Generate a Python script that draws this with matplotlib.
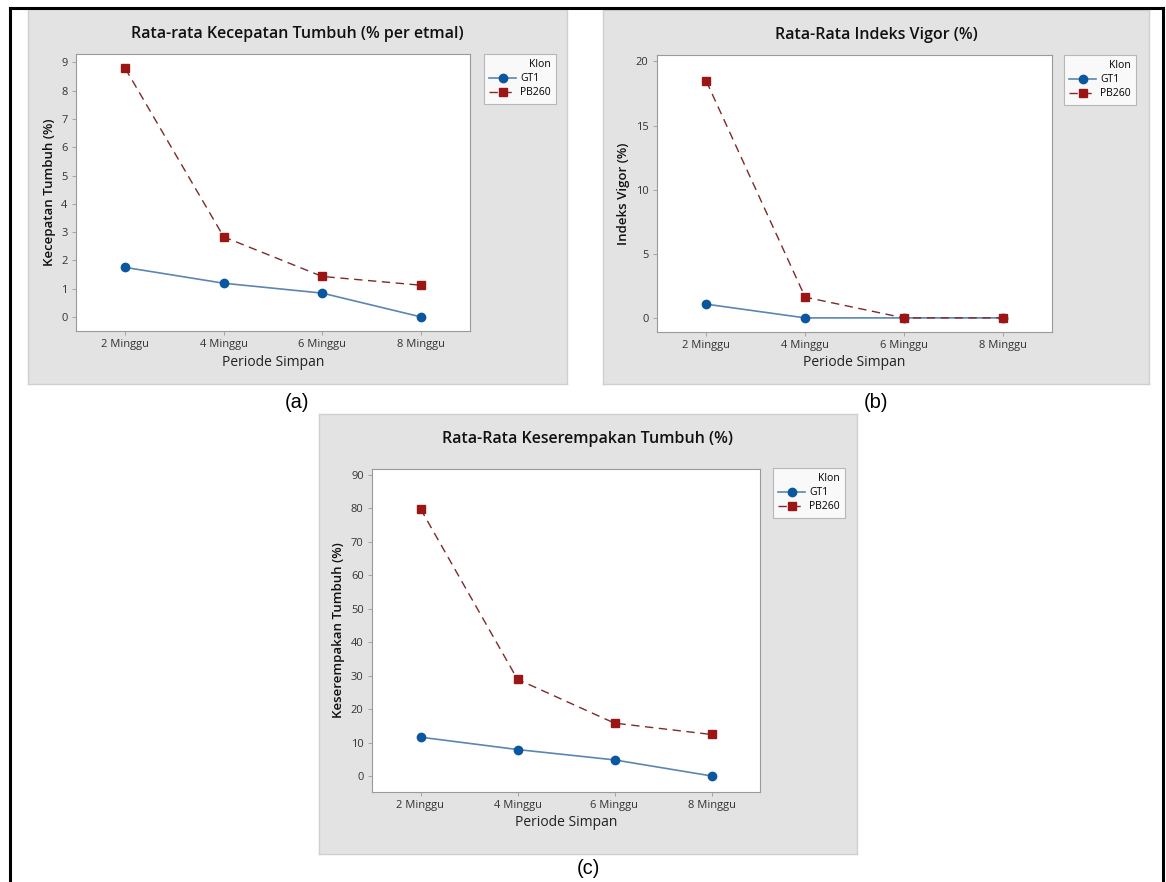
import matplotlib
matplotlib.use("Agg")
import matplotlib.pyplot as plt
from matplotlib.patches import Rectangle
from matplotlib.lines import Line2D

# data
periode = ["2 Minggu", "4 Minggu", "6 Minggu", "8 Minggu"]
klon = ["GT1", "PB260"]

kecepatan_gt1 = [1.75, 1.19, 0.84, 0.0]
kecepatan_pb260 = [8.79, 2.83, 1.43, 1.12]

vigor_gt1 = [1.07, 0.0, 0.0, 0.0]
vigor_pb260 = [18.45, 1.62, 0.0, 0.0]

serempak_gt1 = [11.6, 7.9, 4.8, 0.0]
serempak_pb260 = [79.9, 28.9, 15.8, 12.4]

W, H = 1166, 882
plt.rcParams["font.family"] = ["Open Sans", "DejaVu Sans"]

fig = plt.figure(figsize=(W / 100, H / 100), dpi=100)
fig.patch.set_facecolor("white")


def fx(x):
    return x / W


def fy(y):
    return 1 - y / H


def panel(grey, box, leg, title, ylabel, yticks, ylim, gt1, pb260, tag, tag_y):
    gx0, gy0, gx1, gy1 = grey
    # grey minitab-like background
    bg = fig.add_axes([fx(gx0), fy(gy1), fx(gx1 - gx0), (gy1 - gy0) / H])
    bg.set_facecolor("#e3e3e3")
    bg.set_xticks([])
    bg.set_yticks([])
    for s in bg.spines.values():
        s.set_color("#cfcfcf")
        s.set_linewidth(1)
    bg.set_zorder(0)

    x0, y0, x1, y1 = box
    ax = fig.add_axes([fx(x0), fy(y1), fx(x1 - x0), (y1 - y0) / H])
    ax.set_zorder(2)
    ax.set_facecolor("white")
    xs = range(len(periode))
    ax.plot(xs, gt1, color="#5b86b3", lw=1.2, marker="o", ms=6,
            mfc="#0a57a0", mec="#0a57a0", label=klon[0], zorder=3)
    ax.plot(xs, pb260, color="#7d2a2a", lw=1.0, ls=(0, (6, 4)), marker="s", ms=6,
            mfc="#9c1515", mec="#9c1515", label=klon[1], zorder=4)
    ax.set_xlim(-0.5, 3.5)
    ax.set_ylim(*ylim)
    ax.set_xticks(list(xs))
    ax.set_xticklabels(periode)
    ax.set_yticks(yticks)
    ax.tick_params(axis="both", labelsize=8, labelcolor="#333333", length=3,
                   width=0.6, pad=3, color="#999999")
    for s in ax.spines.values():
        s.set_color("#9a9a9a")
        s.set_linewidth(0.8)
    ax.set_xlabel("Periode Simpan", fontsize=10, color="#222222", labelpad=3)
    ax.set_ylabel(ylabel, fontsize=9.5, color="#111111", fontweight="semibold", labelpad=4)
    fig.text(fx((gx0 + gx1) / 2), fy(gy0 + 25), title, ha="center", va="center",
             fontsize=11.5, color="#111111", fontweight="semibold", zorder=5)
    lx0, ly0 = leg
    lg = ax.legend(title="Klon", loc="upper left",
                   bbox_to_anchor=(fx(lx0), fy(ly0)), bbox_transform=fig.transFigure,
                   fontsize=7.5, title_fontsize=7.5, frameon=True, fancybox=False,
                   edgecolor="#aaaaaa", borderpad=0.5, handlelength=2.6,
                   handletextpad=0.4, labelspacing=0.3, borderaxespad=0)
    lg.get_frame().set_linewidth(0.8)
    lg._legend_box.align = "right"
    fig.text(fx((gx0 + gx1) / 2), fy(tag_y), tag, ha="center", va="center",
             fontsize=14.5, family="Liberation Sans", color="black")
    return ax


panel((28, 9, 567, 384), (76, 54, 470, 331), (484, 54),
      "Rata-rata Kecepatan Tumbuh (% per etmal)", "Kecepatan Tumbuh (%)",
      range(0, 10), (-0.5, 9.3), kecepatan_gt1, kecepatan_pb260, "(a)", 402)

panel((603, 10, 1149, 384), (657, 55, 1052, 332), (1064, 55),
      "Rata-Rata Indeks Vigor (%)", "Indeks Vigor (%)",
      [0, 5, 10, 15, 20], (-1.1, 20.5), vigor_gt1, vigor_pb260, "(b)", 402)

panel((319, 414, 857, 854), (372, 469, 760, 792), (773, 468),
      "Rata-Rata Keserempakan Tumbuh (%)", "Keserempakan Tumbuh (%)",
      range(0, 100, 10), (-4.8, 91.8), serempak_gt1, serempak_pb260, "(c)", 868)

# black frame around the whole figure (open at the bottom)
for xs_, ys_ in [([10, 10], [8, H]), ([10, 1163], [8, 8]), ([1163, 1163], [8, H])]:
    fig.lines.append(Line2D([fx(v) for v in xs_], [fy(v) for v in ys_],
                            transform=fig.transFigure, color="black", lw=2.2))

fig.savefig("out.png", dpi=100)
